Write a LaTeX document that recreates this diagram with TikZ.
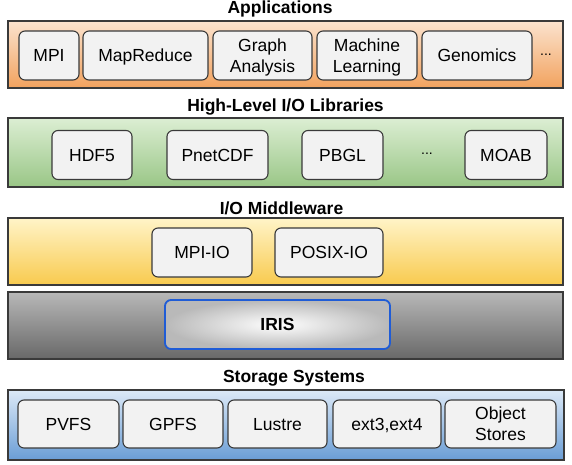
\documentclass[tikz,border=0pt]{standalone}
\usepackage{fontspec}
\setmainfont{Liberation Sans}
\usepackage{tikz}
\usetikzlibrary{positioning,backgrounds}
\definecolor{edgegray}{HTML}{3A3A3A}
\definecolor{boxfill}{HTML}{F2F2F2}
\definecolor{irisblue}{HTML}{1F5CD6}
\definecolor{apptop}{HTML}{FBE3CE}
\definecolor{appbot}{HTML}{F2A25E}
\definecolor{libtop}{HTML}{DCEED3}
\definecolor{libbot}{HTML}{99C686}
\definecolor{midtop}{HTML}{FFF4C8}
\definecolor{midbot}{HTML}{F8CA4E}
\definecolor{iristop}{HTML}{B8B8B8}
\definecolor{irisbot}{HTML}{686868}
\definecolor{stotop}{HTML}{DCE9F7}
\definecolor{stobot}{HTML}{6A9DD5}

\begin{document}
\begin{tikzpicture}[x=1pt,y=-1pt,
  band/.style={draw=edgegray,line width=1.3pt},
  layer/.style={font=\bfseries\fontsize{17.5}{20}\selectfont},
  comp/.style={draw=edgegray,line width=1.1pt,fill=boxfill,rounded corners=6pt,
    align=center,inner sep=0pt,text depth=0pt,
    font=\fontsize{17.5}{21}\selectfont,minimum height=49pt},
  dots/.style={font=\fontsize{14}{16}\selectfont}]
\useasboundingbox (0,0) rectangle (572,465);
% applications
\node[layer] (lapp) at (280,9) {Applications};
\draw[band,top color=apptop,bottom color=appbot] (8,21) rectangle (563,88);
\node[comp,minimum width=60pt]  (mpi) at (49,55.5) {MPI};
\node[comp,minimum width=125pt] (mapred) at (145.5,55.5) {MapReduce};
\node[comp,minimum width=99pt]  (graph) at (262.5,55.5) {Graph\\Analysis};
\node[comp,minimum width=100pt] (ml) at (367,55.5) {Machine\\Learning};
\node[comp,minimum width=110pt] (geno) at (477,55.5) {Genomics};
\node[dots] (appdots) at (546,55) {...};
% high-level libraries
\node[layer] (llib) at (285.5,107) {High-Level I/O Libraries};
\draw[band,top color=libtop,bottom color=libbot] (8,118) rectangle (563,187);
\node[comp,minimum width=80pt]  (hdf) at (92,155) {HDF5};
\node[comp,minimum width=101pt] (pnet) at (217.5,155) {PnetCDF};
\node[comp,minimum width=81pt]  (pbgl) at (342.5,155) {PBGL};
\node[dots] (libdots) at (427,154) {...};
\node[comp,minimum width=82pt]  (moab) at (506,155) {MOAB};
% middleware
\node[layer] (lmid) at (281.5,208) {I/O Middleware};
\draw[band,top color=midtop,bottom color=midbot] (8,218) rectangle (563,285);
\node[comp,minimum width=100pt] (mpiio) at (202,252.5) {MPI-IO};
\node[comp,minimum width=108pt] (posix) at (329,252.5) {POSIX-IO};
% iris
\draw[band,top color=iristop,bottom color=irisbot] (8,292) rectangle (563,359);
\node[comp,minimum width=225pt,draw=irisblue,line width=1.8pt,inner color=white,
  outer color=gray!55,font=\bfseries\fontsize{17.5}{21}\selectfont] (iris) at (277.5,324.5) {IRIS};
% storage
\node[layer] (lsto) at (294,378) {Storage Systems};
\draw[band,top color=stotop,bottom color=stobot] (8,390) rectangle (564,460);
\node[comp,minimum width=101pt,minimum height=48pt] (pvfs) at (68.5,424) {PVFS};
\node[comp,minimum width=100pt,minimum height=48pt] (gpfs) at (173,424) {GPFS};
\node[comp,minimum width=99pt,minimum height=48pt]  (lustre) at (277.5,424) {Lustre};
\node[comp,minimum width=108pt,minimum height=48pt] (ext) at (387,424) {ext3,ext4};
\node[comp,minimum width=111pt,minimum height=48pt] (obj) at (500.5,424) {Object\\Stores};
\end{tikzpicture}
\end{document}
